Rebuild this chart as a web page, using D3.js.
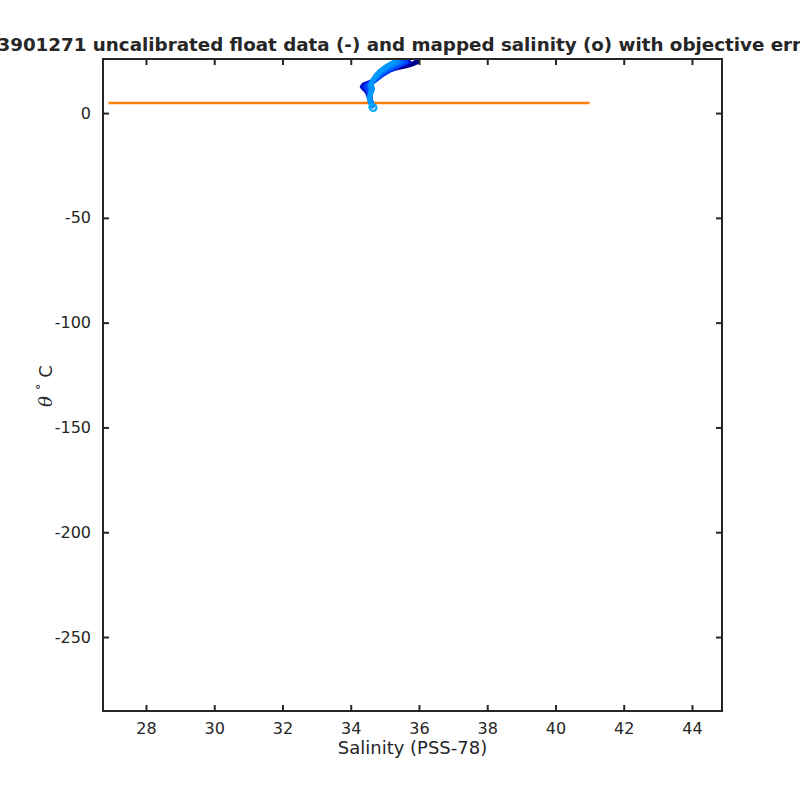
<!DOCTYPE html>
<html><head><meta charset="utf-8">
<script src="https://cdn.jsdelivr.net/npm/d3@7"></script>
<style>body{margin:0;background:#fff}svg{display:block}text{font-family:"DejaVu Sans",sans-serif;fill:#262626}</style>
</head><body><svg id="c" width="800" height="800"></svg>
<script>
const xTicks = [28,30,32,34,36,38,40,42,44];
const yTicks = [0,-50,-100,-150,-200,-250];
const xDomain = [26.74, 44.88];
const yDomain = [-285.3, 25.8];
const thetaLevels = [24.5,23.5,22.5,21.5,20.5,19.5,18.5,17.5,16.5,15.5,14.5,13.5,12.5,11.5,10.5,9.5,8.5,7.5,6.5,5.5,4.5,3.5];
const profileColors = ["#000090","#0010d0","#0040ff","#0062ff","#0080ff","#0098ff"];
const profiles = [
  [35.95,35.82,35.62,35.32,35.10,34.98,34.88,34.80,34.74,34.68,34.61,34.57,34.57,34.58,34.58,34.57,34.56,34.56,34.57,34.59,34.61,34.62],
  [35.70,35.55,35.40,35.28,35.15,35.04,34.94,34.85,34.77,34.68,34.55,34.38,34.34,34.40,34.46,34.50,34.52,34.54,34.56,34.58,34.60,34.62],
  [35.62,35.50,35.38,35.25,35.12,35.02,34.93,34.85,34.78,34.70,34.60,34.50,34.45,34.48,34.52,34.54,34.55,34.56,34.57,34.59,34.61,34.63],
  [35.50,35.38,35.26,35.14,35.03,34.94,34.86,34.79,34.73,34.67,34.60,34.55,34.55,34.58,34.58,34.57,34.56,34.56,34.57,34.59,34.61,34.62],
  [35.40,35.28,35.16,35.05,34.96,34.88,34.81,34.75,34.70,34.66,34.62,34.60,34.62,34.64,34.62,34.59,34.57,34.55,34.56,34.58,34.60,34.62],
  [35.30,35.18,35.07,34.98,34.90,34.83,34.77,34.72,34.68,34.64,34.61,34.59,34.60,34.62,34.60,34.58,34.56,34.54,34.55,34.57,34.60,34.62]
];
const mappedSal = [34.66, 34.64];
const mappedTheta = [2.5, 2.9];
const orangeX = [26.9, 41.0];
const orangeY = [4.8, 4.8];

const L=103,R=722,T=59,B=711;
const svg = d3.select("#c");
const x = d3.scaleLinear().domain(xDomain).range([L,R]);
const y = d3.scaleLinear().domain(yDomain).range([B,T]);
const ink="#262626";

svg.append("clipPath").attr("id","cp").append("rect").attr("x",L).attr("y",T).attr("width",R-L).attr("height",B-T);
const plot = svg.append("g").attr("clip-path","url(#cp)");

plot.append("path").datum(orangeX.map((v,i)=>[v,orangeY[i]]))
  .attr("d", d3.line().x(d=>x(d[0])).y(d=>y(d[1])))
  .attr("fill","none").attr("stroke","#ff8000").attr("stroke-width",2.5);

const line = d3.line().x(d=>x(d[0])).y(d=>y(d[1]));
profiles.forEach((p,i)=>{
  plot.append("path").datum(p.map((s,j)=>[s,thetaLevels[j]]))
    .attr("d",line).attr("fill","none").attr("stroke",profileColors[i])
    .attr("stroke-width",5).attr("stroke-linejoin","round").attr("stroke-linecap","round");
});

mappedSal.forEach((s,i)=>{
  plot.append("circle").attr("cx",x(s)).attr("cy",y(mappedTheta[i])).attr("r",3.5)
    .attr("fill","none").attr("stroke","#00a8ff").attr("stroke-width",1.5);
});

const fmt = d => String(d);
const xb = d3.axisBottom(x).tickValues(xTicks).tickSizeInner(-6).tickSizeOuter(0).tickPadding(12).tickFormat(fmt);
const xt = d3.axisTop(x).tickValues(xTicks).tickSizeInner(-6).tickSizeOuter(0).tickFormat("");
const yl = d3.axisLeft(y).tickValues(yTicks).tickSizeInner(-6).tickSizeOuter(0).tickPadding(12).tickFormat(fmt);
const yr = d3.axisRight(y).tickValues(yTicks).tickSizeInner(-6).tickSizeOuter(0).tickFormat("");
function style(sel){sel.select(".domain").remove();sel.selectAll("line").attr("stroke",ink).attr("stroke-width",2);sel.selectAll("text").attr("font-size",16).attr("font-family","DejaVu Sans").attr("fill",ink);}
svg.append("g").attr("transform",`translate(0,${B})`).call(xb).call(style);
svg.append("g").attr("transform",`translate(0,${T})`).call(xt).call(style);
svg.append("g").attr("transform",`translate(${L},0)`).call(yl).call(style);
svg.append("g").attr("transform",`translate(${R},0)`).call(yr).call(style);
svg.append("rect").attr("x",L).attr("y",T).attr("width",R-L).attr("height",B-T).attr("fill","none").attr("stroke",ink).attr("stroke-width",2);

svg.append("text").attr("x",(L+R)/2).attr("y",754).attr("text-anchor","middle").attr("font-size",18).text("Salinity (PSS-78)");
const yl2 = svg.append("text").attr("transform","translate(52,386) rotate(-90)").attr("text-anchor","middle").attr("font-size",18);
yl2.append("tspan").attr("font-style","italic").attr("font-family","DejaVu Serif").text("θ");
yl2.append("tspan").attr("dx",6).attr("dy",-7).attr("font-size",13).text("°");
yl2.append("tspan").attr("dx",6).attr("dy",7).text("C");
svg.append("text").attr("x",(L+R)/2+3).attr("y",51).attr("text-anchor","middle").attr("font-size",18.3).attr("font-weight","bold").attr("fill","#000").text("3901271 uncalibrated float data (-) and mapped salinity (o) with objective errors");
</script></body></html>
